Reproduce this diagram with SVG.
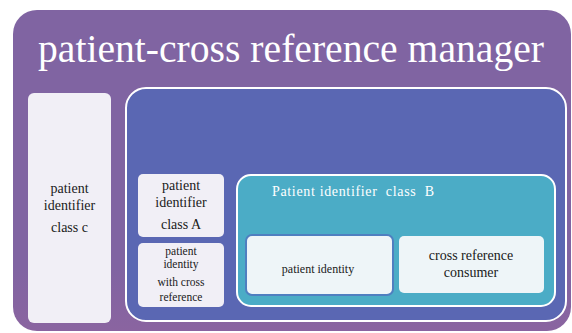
<svg xmlns="http://www.w3.org/2000/svg" width="572" height="333" viewBox="0 0 572 333">
<defs>
<linearGradient id="pg" x1="0" y1="0" x2="0" y2="1"><stop offset="0.8" stop-color="#8064a2"/><stop offset="1" stop-color="#8a64a0"/></linearGradient>
</defs>
<rect width="572" height="333" fill="#ffffff"/>
<g id="manager">
<rect x="13" y="10" width="558" height="321" rx="24" fill="url(#pg)"/>
<text font-family="Liberation Serif" x="38" y="62" font-size="40" fill="#ffffff" textLength="506" lengthAdjust="spacingAndGlyphs">patient-cross reference manager</text>
</g>
<g id="class-c">
<rect x="28" y="93" width="83" height="230" rx="6" fill="#f1eff6"/>
<text font-family="Liberation Serif" fill="#1a1a1a" text-anchor="middle" x="69.5" y="193" font-size="14">patient</text>
<text font-family="Liberation Serif" fill="#1a1a1a" text-anchor="middle" x="69.5" y="210" font-size="14">identifier</text>
<text font-family="Liberation Serif" fill="#1a1a1a" text-anchor="middle" x="69.5" y="232" font-size="14">class c</text>
</g>
<g id="container">
<rect x="126" y="88" width="440" height="233" rx="20" fill="#5a67b3" stroke="#ffffff" stroke-width="2"/>
</g>
<g id="class-a">
<rect x="138" y="174" width="86" height="63" rx="5" fill="#f1eff6"/>
<text font-family="Liberation Serif" fill="#1a1a1a" text-anchor="middle" x="181" y="190" font-size="14">patient</text>
<text font-family="Liberation Serif" fill="#1a1a1a" text-anchor="middle" x="181" y="207" font-size="14">identifier</text>
<text font-family="Liberation Serif" fill="#1a1a1a" text-anchor="middle" x="181" y="229" font-size="14">class A</text>
</g>
<g id="identity-cross">
<rect x="138" y="243" width="86" height="64" rx="5" fill="#f1eff6"/>
<text font-family="Liberation Serif" fill="#1a1a1a" text-anchor="middle" x="181" y="255" font-size="11.5">patient</text>
<text font-family="Liberation Serif" fill="#1a1a1a" text-anchor="middle" x="181" y="268" font-size="11.5">identity</text>
<text font-family="Liberation Serif" fill="#1a1a1a" text-anchor="middle" x="181" y="286" font-size="11.5">with cross</text>
<text font-family="Liberation Serif" fill="#1a1a1a" text-anchor="middle" x="181" y="301" font-size="11.5">reference</text>
</g>
<g id="class-b">
<rect x="237" y="175" width="318" height="131" rx="14" fill="#4bacc6" stroke="#ffffff" stroke-width="2"/>
<text font-family="Liberation Serif" x="272" y="196" font-size="14" fill="#ffffff" xml:space="preserve" textLength="162" lengthAdjust="spacing">Patient identifier  class  B</text>
</g>
<g id="patient-identity">
<rect x="246" y="235" width="147" height="60" rx="6" fill="#eef5f8" stroke="#4f7fc0" stroke-width="2"/>
<text font-family="Liberation Serif" fill="#1a1a1a" text-anchor="middle" x="318" y="273" font-size="12">patient identity</text>
</g>
<g id="consumer">
<rect x="399" y="236" width="145" height="57" rx="5" fill="#eef5f8"/>
<text font-family="Liberation Serif" fill="#1a1a1a" text-anchor="middle" x="471" y="260" font-size="14">cross reference</text>
<text font-family="Liberation Serif" fill="#1a1a1a" text-anchor="middle" x="471" y="277" font-size="14">consumer</text>
</g>
<g id="connectors"></g>
</svg>
